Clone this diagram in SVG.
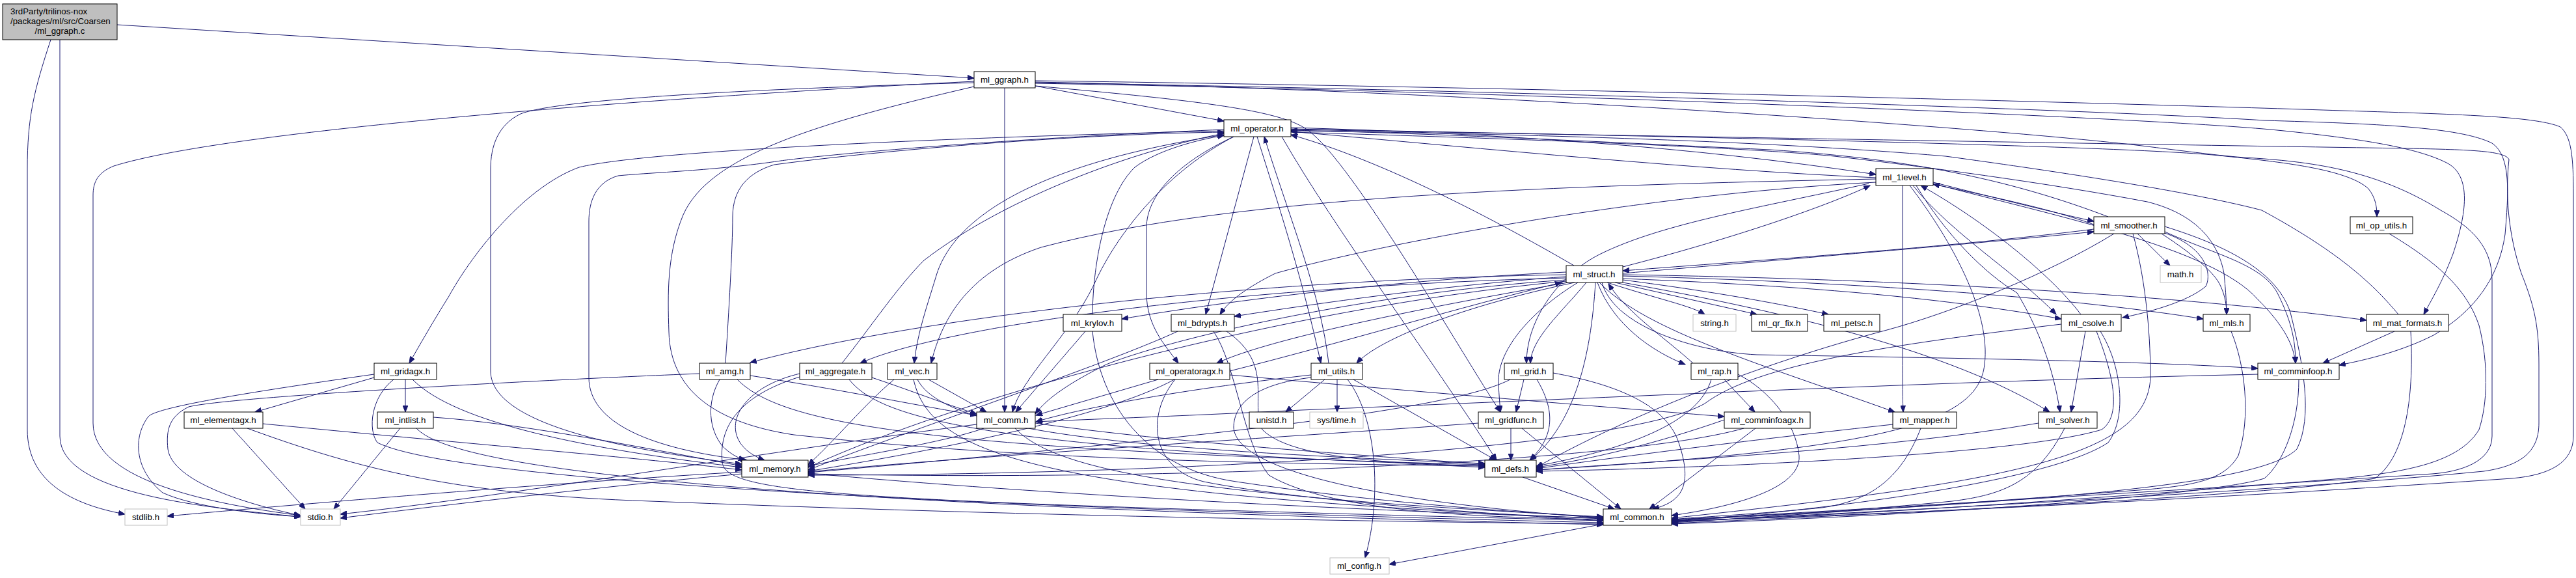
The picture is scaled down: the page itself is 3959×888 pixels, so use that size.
<svg xmlns="http://www.w3.org/2000/svg" width="3959" height="888" viewBox="0 0 3959 888">
<style>
.node rect{fill:#fff;stroke:#000;stroke-width:1}
.node.sys rect{stroke:#bfbfbf}
.node.root rect{fill:#bfbfbf}
.node text{font-family:"Liberation Sans",Arial,sans-serif;font-size:13.3px;fill:#000;text-anchor:middle}
.edges path{fill:none;stroke:#191970;stroke-width:1;marker-end:url(#a)}
</style>
<defs>
<marker id="a" markerWidth="11" markerHeight="8" refX="10" refY="4" orient="auto" markerUnits="userSpaceOnUse"><path d="M0,0 L10,4 L0,8 z" fill="#191970" stroke="#191970" stroke-width="1"/></marker>
</defs>
<rect width="3959" height="888" fill="#fff"/>
<g class="edges" id="edges">
<path d="M180,38 L1497,120"/>
<path d="M78,61 C52,140 42,180 42,260 L42,660 C42,740 110,775 192,790"/>
<path d="M92,61 L92,670 C92,760 320,780 462,794"/>
<path d="M1591,132 L1881,186"/>
<path d="M1544,135 L1544,633"/>
<path d="M1497,125 C1000,150 350,200 175,255 C150,265 143,280 143,300 L143,650 C143,740 330,775 462,792"/>
<path d="M1497,127 C1100,138 850,155 800,175 C765,192 754,225 754,260 L754,570 C754,660 1000,695 1140,713"/>
<path d="M1497,133 C1250,190 1090,240 1050,330 C1025,390 1026,450 1028,510 C1030,600 1100,650 1220,668 C1600,710 2000,712 2282,716"/>
<path d="M1591,124 C2400,135 3300,160 3600,170 C3800,176 3900,180 3935,195 C3952,210 3955,240 3955,300 L3955,670 C3955,710 3920,730 3860,735 C3500,760 2900,792 2569,800"/>
<path d="M1591,128 C2300,140 3300,180 3500,200 C3650,215 3720,230 3760,250 C3800,270 3790,330 3770,390 C3755,430 3740,455 3725,483"/>
<path d="M1591,132 C1850,155 1970,170 2010,200 C2080,250 2250,550 2306,633"/>
<path d="M1591,127 C2300,138 3250,170 3480,185 C3650,190 3780,195 3830,220 C3860,240 3855,300 3850,360 C3840,430 3800,480 3740,515 C3690,540 3640,552 3595,561"/>
<path d="M1591,126 C2300,140 3100,200 3300,225 C3380,235 3420,240 3450,242 C3550,248 3650,260 3751,323 C3800,350 3830,380 3830,430 L3830,670 C3830,710 3780,725 3738,728 C3400,750 2900,780 2569,799"/>
<path d="M1881,201 C1500,210 1000,230 890,257 C800,290 720,400 690,455 C665,495 645,530 629,558"/>
<path d="M1881,199 C1500,215 1250,240 1200,247 C1100,262 1000,265 950,270 C915,280 905,310 905,340 L905,580 C905,650 1000,690 1148,707"/>
<path d="M1881,207 C1600,250 1470,330 1440,420 C1425,470 1410,510 1405,558"/>
<path d="M1927,210 L1853,483"/>
<path d="M1896,210 C1800,260 1720,350 1680,440 C1640,520 1570,580 1556,633"/>
<path d="M1984,196 C2300,205 2600,225 2883,268"/>
<path d="M1984,198 C2600,210 3300,225 3420,240 C3520,250 3610,262 3640,290 C3652,305 3653,320 3653,333"/>
<path d="M1984,199 C2600,210 3300,222 3700,228 C3800,230 3850,232 3856,245 C3850,300 3855,360 3875,420 C3895,470 3902,500 3902,560 L3902,650 C3902,690 3880,715 3817,724 C3500,755 2900,785 2569,802"/>
<path d="M1984,203 C2400,215 2700,228 2819,240 C2950,255 3147,281 3300,310 C3380,330 3410,376 3418,420 C3421,450 3422,470 3422,483"/>
<path d="M1970,210 C2050,350 2200,550 2300,707"/>
<path d="M1896,210 C1810,250 1762,300 1762,350 L1762,450 C1762,500 1790,530 1811,558"/>
<path d="M1932,210 C1960,300 2000,420 2030,558"/>
<path d="M2042,558 C2030,450 1980,330 1943,210"/>
<path d="M2883,273 C2600,260 2300,230 1984,202"/>
<path d="M2971,280 C3050,300 3150,325 3218,340"/>
<path d="M2924,285 L2924,540 C2924,580 2924,610 2925,633"/>
<path d="M2940,285 C3000,360 3100,420 3160,483"/>
<path d="M2945,285 C2990,360 3050,420 3100,450 C3130,500 3155,560 3166,633"/>
<path d="M2935,285 C3000,370 3060,480 3050,560 C3040,650 2900,690 2361,722"/>
<path d="M2971,282 C3150,330 3400,380 3470,460 C3510,500 3525,530 3528,558"/>
<path d="M2872,282 C2700,320 2556,343 2460,390 C2399,420 2346,488 2346,558"/>
<path d="M2883,275 C2400,285 1900,300 1600,380 C1480,420 1445,500 1431,558"/>
<path d="M3198,483 C3150,420 3050,340 2952,285"/>
<path d="M3240,333 C3100,280 2950,245 2720,230 C2400,215 2200,205 1984,200"/>
<path d="M3218,345 C3150,320 3050,300 2971,283"/>
<path d="M3218,352 C3000,380 2700,400 2494,416"/>
<path d="M2494,420 C2700,402 3000,378 3218,356"/>
<path d="M3285,359 L3335,408"/>
<path d="M3322,359 C3370,390 3405,420 3413,440 C3420,455 3422,470 3422,483"/>
<path d="M3325,355 C3400,390 3476,405 3500,450 C3520,490 3528,520 3528,558"/>
<path d="M3327,348 C3430,380 3500,420 3520,480 C3540,560 3555,640 3530,690 C3480,740 3200,770 2569,798"/>
<path d="M3278,359 C3295,420 3305,500 3305,580 C3300,700 3100,740 2569,796"/>
<path d="M3249,359 C3150,420 3000,480 2900,507 C2700,560 2500,640 2361,718"/>
<path d="M3327,358 C3390,380 3400,420 3390,440 C3360,465 3300,480 3262,488"/>
<path d="M3686,483 C3650,440 3600,390 3476,323 C3350,290 3100,255 2990,240 C2700,215 2300,205 1984,201"/>
<path d="M3672,359 C3740,400 3790,440 3810,500 C3825,560 3823,620 3810,660 C3780,710 3700,725 3600,735 C3300,760 2900,790 2569,801"/>
<path d="M2419,408 C2250,310 2100,240 1984,207"/>
<path d="M2494,410 C2650,370 2800,320 2874,285"/>
<path d="M2407,418 C2150,430 1900,460 1724,490"/>
<path d="M2407,425 C2200,440 2000,470 1897,486"/>
<path d="M2883,280 C2500,300 2100,380 1960,420 C1920,440 1890,460 1875,483"/>
<path d="M2407,430 C2100,450 1800,520 1700,560 C1650,585 1610,610 1591,636"/>
<path d="M2407,422 C1900,430 1400,490 1153,557"/>
<path d="M2407,427 C1900,440 1450,500 1322,558"/>
<path d="M2410,434 C2200,470 1950,520 1870,558"/>
<path d="M2420,434 C2250,470 2120,520 2085,558"/>
<path d="M2438,434 C2400,480 2353,520 2352,558"/>
<path d="M2425,434 C2350,480 2300,540 2303,590 C2304,610 2305,620 2306,633"/>
<path d="M2452,434 C2445,550 2420,650 2352,707"/>
<path d="M2470,434 C2550,460 2600,470 2620,483"/>
<path d="M2482,434 L2700,483"/>
<path d="M2494,430 C2650,450 2750,470 2810,483"/>
<path d="M2494,428 C2800,440 3000,460 3168,490"/>
<path d="M2494,424 C2900,435 3200,460 3386,490"/>
<path d="M2494,422 C3000,430 3400,460 3637,492"/>
<path d="M2462,434 C2480,500 2600,540 2700,545 C3000,550 3300,555 3470,566"/>
<path d="M2455,434 C2480,500 2540,540 2590,560"/>
<path d="M2602,558 C2560,520 2500,480 2472,436"/>
<path d="M2458,434 C2530,509 2714,562 2912,633"/>
<path d="M2494,434 C2750,480 3000,540 3150,633"/>
<path d="M2407,432 C2000,470 1500,600 1242,718"/>
<path d="M1890,570 C2050,530 2250,470 2400,434"/>
<path d="M1427,583 L1516,633"/>
<path d="M1374,583 C1330,620 1280,680 1242,714"/>
<path d="M1410,583 C1450,660 1700,690 2282,712"/>
<path d="M1404,583 C1430,700 1600,760 2464,797"/>
<path d="M1679,483 C1680,400 1700,300 1744,257 C1780,230 1840,215 1881,208"/>
<path d="M1668,509 L1561,633"/>
<path d="M1679,509 C1690,620 1760,720 1900,740 C2100,770 2300,785 2464,795"/>
<path d="M1810,509 C1700,560 1400,660 1242,722"/>
<path d="M1865,509 C1900,560 1910,680 1950,730 C2050,790 2300,795 2464,798"/>
<path d="M1885,509 C1960,560 1920,620 1940,660 C1980,700 2100,710 2282,718"/>
<path d="M1780,583 L1592,638"/>
<path d="M1890,576 C2100,595 2400,620 2650,640"/>
<path d="M1805,583 C1700,640 1450,690 1242,724"/>
<path d="M1806,583 C1760,640 1770,720 1850,740 C2000,770 2300,790 2464,800"/>
<path d="M2036,583 L1976,633"/>
<path d="M2055,583 L2055,633"/>
<path d="M2071,583 C2115,640 2125,760 2098,857"/>
<path d="M2080,583 L2299,707"/>
<path d="M2015,576 C1800,600 1650,630 1592,648"/>
<path d="M2015,580 C1930,590 1896,620 1896,657 C1900,720 2100,770 2464,796"/>
<path d="M2342,583 L2330,633"/>
<path d="M2362,583 C2390,630 2390,670 2351,707"/>
<path d="M2321,583 C2250,620 2000,660 1242,726"/>
<path d="M2387,573 C2480,590 2560,620 2580,680 C2600,740 2590,770 2540,782"/>
<path d="M2322,658 L2322,707"/>
<path d="M2339,658 L2491,782"/>
<path d="M2272,650 C2000,670 1500,700 1242,725"/>
<path d="M2650,583 L2697,633"/>
<path d="M2630,583 C2610,650 2500,690 2361,716"/>
<path d="M2671,575 C2720,600 2760,650 2765,700 C2770,760 2620,785 2569,792"/>
<path d="M2650,645 C2550,680 2450,705 2361,718"/>
<path d="M2698,658 L2535,782"/>
<path d="M2680,658 C2500,710 1800,740 1242,728"/>
<path d="M2909,652 C2700,675 2500,700 2361,720"/>
<path d="M2952,658 C2920,740 2870,770 2800,780 C2700,790 2600,795 2569,798"/>
<path d="M3133,650 C2900,690 2600,705 2361,722"/>
<path d="M3173,658 C3130,740 3080,760 3000,770 C2800,790 2650,795 2569,800"/>
<path d="M3205,509 L3183,633"/>
<path d="M3222,509 C3250,580 3260,640 3230,660 C3100,700 2600,720 2361,724"/>
<path d="M3228,509 C3260,560 3270,640 3240,680 C3150,740 2800,785 2569,801"/>
<path d="M3168,498 C2900,530 2700,560 2620,620 C2500,690 1800,730 1242,730"/>
<path d="M3429,509 C3450,560 3460,640 3440,700 C3420,735 3380,745 3300,752 C3000,775 2700,795 2569,803"/>
<path d="M3680,509 L3570,558"/>
<path d="M3705,509 C3710,600 3700,700 3650,735 C3500,760 3000,785 2569,804"/>
<path d="M3533,583 C3533,650 3510,710 3480,735 C3400,760 3000,790 2569,805"/>
<path d="M3470,575 C3000,585 2500,610 2000,630 C1800,640 1650,645 1592,648"/>
<path d="M1115,558 C1120,480 1126,380 1126,333 C1126,290 1150,265 1190,253 C1400,225 1700,205 1881,203"/>
<path d="M1106,583 C1085,620 1090,660 1110,685 C1120,695 1130,702 1145,707"/>
<path d="M1153,577 C1300,600 1420,625 1501,638"/>
<path d="M1075,574 C800,585 350,610 290,625 C260,640 255,660 258,690 C265,740 380,775 462,792"/>
<path d="M1133,583 C1200,650 1400,690 2282,714"/>
<path d="M1294,558 C1340,500 1380,440 1420,400 C1550,300 1750,230 1881,205"/>
<path d="M1229,574 C1120,600 1100,680 1175,707"/>
<path d="M1229,579 C1130,610 1105,660 1110,710 C1115,760 1300,770 2464,800"/>
<path d="M1340,580 C1400,600 1450,620 1501,636"/>
<path d="M1305,583 C1350,640 1500,690 2282,716"/>
<path d="M575,580 L392,633"/>
<path d="M623,583 L623,633"/>
<path d="M575,575 C400,600 240,625 228,640 C205,670 205,720 250,757 C300,780 400,790 462,794"/>
<path d="M634,583 C700,650 900,690 1140,718"/>
<path d="M605,583 C570,610 565,660 580,680 C700,740 1500,780 2464,803"/>
<path d="M357,658 L469,782"/>
<path d="M404,651 C700,680 1000,705 1140,722"/>
<path d="M380,658 C550,720 700,760 1000,770 C1500,790 2000,800 2464,805"/>
<path d="M615,658 C580,700 540,750 513,782"/>
<path d="M666,641 C800,650 1000,690 1140,716"/>
<path d="M640,658 C680,700 900,770 2464,806"/>
<path d="M1140,725 C800,745 400,780 257,793"/>
<path d="M1140,728 C900,750 650,780 523,796"/>
<path d="M1242,727 C1600,760 2100,785 2464,796"/>
<path d="M1512,658 C1450,680 1320,700 1242,716"/>
<path d="M1591,650 C1800,680 2100,700 2282,713"/>
<path d="M1560,658 C1620,720 1800,760 2464,794"/>
<path d="M1501,652 C1200,690 800,760 523,790"/>
<path d="M2340,733 L2481,782"/>
<path d="M2464,805 L2135,867"/>
</g>
<g id="n_root" class="node root"><rect x="4" y="6" width="176" height="55"/><text x="16" y="22" style="text-anchor:start">3rdParty/trilinos-nox</text><text x="16" y="37" style="text-anchor:start">/packages/ml/src/Coarsen</text><text x="92" y="52">/ml_ggraph.c</text></g>
<g id="n_ggraph" class="node"><rect x="1497" y="110" width="94" height="25"/><text x="1544" y="127">ml_ggraph.h</text></g>
<g id="n_operator" class="node"><rect x="1881" y="184" width="103" height="26"/><text x="1932" y="202">ml_operator.h</text></g>
<g id="n_1level" class="node"><rect x="2883" y="259" width="88" height="26"/><text x="2927" y="277">ml_1level.h</text></g>
<g id="n_smoother" class="node"><rect x="3218" y="333" width="109" height="26"/><text x="3272" y="351">ml_smoother.h</text></g>
<g id="n_oputils" class="node"><rect x="3612" y="333" width="96" height="26"/><text x="3660" y="351">ml_op_utils.h</text></g>
<g id="n_struct" class="node"><rect x="2407" y="408" width="87" height="26"/><text x="2450" y="426">ml_struct.h</text></g>
<g id="n_math" class="node sys"><rect x="3320" y="408" width="63" height="26"/><text x="3351" y="426">math.h</text></g>
<g id="n_krylov" class="node"><rect x="1634" y="483" width="90" height="26"/><text x="1679" y="501">ml_krylov.h</text></g>
<g id="n_bdrypts" class="node"><rect x="1800" y="483" width="97" height="26"/><text x="1848" y="501">ml_bdrypts.h</text></g>
<g id="n_string" class="node sys"><rect x="2602" y="483" width="66" height="26"/><text x="2635" y="501">string.h</text></g>
<g id="n_qrfix" class="node"><rect x="2692" y="483" width="86" height="26"/><text x="2735" y="501">ml_qr_fix.h</text></g>
<g id="n_petsc" class="node"><rect x="2803" y="483" width="86" height="26"/><text x="2846" y="501">ml_petsc.h</text></g>
<g id="n_csolve" class="node"><rect x="3168" y="483" width="92" height="26"/><text x="3214" y="501">ml_csolve.h</text></g>
<g id="n_mls" class="node"><rect x="3386" y="483" width="72" height="26"/><text x="3422" y="501">ml_mls.h</text></g>
<g id="n_matformats" class="node"><rect x="3637" y="483" width="126" height="26"/><text x="3700" y="501">ml_mat_formats.h</text></g>
<g id="n_gridagx" class="node"><rect x="575" y="558" width="96" height="25"/><text x="623" y="575">ml_gridagx.h</text></g>
<g id="n_amg" class="node"><rect x="1075" y="558" width="78" height="25"/><text x="1114" y="575">ml_amg.h</text></g>
<g id="n_aggregate" class="node"><rect x="1229" y="558" width="111" height="25"/><text x="1284" y="575">ml_aggregate.h</text></g>
<g id="n_vec" class="node"><rect x="1364" y="558" width="76" height="25"/><text x="1402" y="575">ml_vec.h</text></g>
<g id="n_operatoragx" class="node"><rect x="1767" y="558" width="123" height="25"/><text x="1828" y="575">ml_operatoragx.h</text></g>
<g id="n_utils" class="node"><rect x="2015" y="558" width="79" height="25"/><text x="2054" y="575">ml_utils.h</text></g>
<g id="n_grid" class="node"><rect x="2312" y="558" width="75" height="25"/><text x="2349" y="575">ml_grid.h</text></g>
<g id="n_rap" class="node"><rect x="2599" y="558" width="72" height="25"/><text x="2635" y="575">ml_rap.h</text></g>
<g id="n_comminfoop" class="node"><rect x="3470" y="558" width="125" height="25"/><text x="3532" y="575">ml_comminfoop.h</text></g>
<g id="n_elementagx" class="node"><rect x="283" y="633" width="121" height="25"/><text x="343" y="650">ml_elementagx.h</text></g>
<g id="n_intlist" class="node"><rect x="580" y="633" width="86" height="25"/><text x="623" y="650">ml_intlist.h</text></g>
<g id="n_comm" class="node"><rect x="1501" y="633" width="90" height="25"/><text x="1546" y="650">ml_comm.h</text></g>
<g id="n_unistd" class="node"><rect x="1920" y="633" width="68" height="25"/><text x="1954" y="650">unistd.h</text></g>
<g id="n_systime" class="node sys"><rect x="2013" y="633" width="82" height="25"/><text x="2054" y="650">sys/time.h</text></g>
<g id="n_gridfunc" class="node"><rect x="2272" y="633" width="100" height="25"/><text x="2322" y="650">ml_gridfunc.h</text></g>
<g id="n_comminfoagx" class="node"><rect x="2650" y="633" width="132" height="25"/><text x="2716" y="650">ml_comminfoagx.h</text></g>
<g id="n_mapper" class="node"><rect x="2909" y="633" width="98" height="25"/><text x="2958" y="650">ml_mapper.h</text></g>
<g id="n_solver" class="node"><rect x="3133" y="633" width="90" height="25"/><text x="3178" y="650">ml_solver.h</text></g>
<g id="n_memory" class="node"><rect x="1140" y="707" width="102" height="26"/><text x="1191" y="725">ml_memory.h</text></g>
<g id="n_defs" class="node"><rect x="2282" y="707" width="79" height="26"/><text x="2321" y="725">ml_defs.h</text></g>
<g id="n_stdlib" class="node sys"><rect x="192" y="782" width="65" height="25"/><text x="224" y="799">stdlib.h</text></g>
<g id="n_stdio" class="node sys"><rect x="462" y="782" width="61" height="25"/><text x="492" y="799">stdio.h</text></g>
<g id="n_common" class="node"><rect x="2464" y="782" width="105" height="25"/><text x="2516" y="799">ml_common.h</text></g>
<g id="n_config" class="node sys"><rect x="2044" y="857" width="91" height="25"/><text x="2089" y="874">ml_config.h</text></g>
</svg>
